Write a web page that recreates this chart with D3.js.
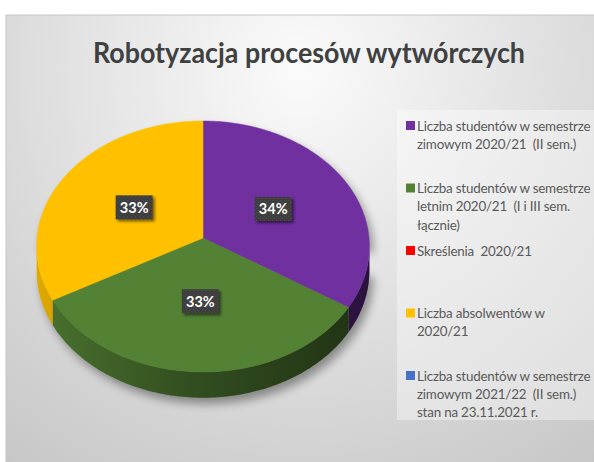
<!DOCTYPE html>
<html>
<head>
<meta charset="utf-8">
<script src="https://cdn.jsdelivr.net/npm/d3@7"></script>
<style>
  html, body { margin: 0; padding: 0; background: #ffffff; }
  svg { display: block; }
</style>
</head>
<body>
<svg id="chart" width="594" height="462"></svg>
<script>
// Series: share of each group (legend order)
const categories = [
  ["Liczba studentów w semestrze", "zimowym 2020/21  (II sem.)"],
  ["Liczba studentów w semestrze", "letnim 2020/21  (I i III sem.", "łącznie)"],
  ["Skreślenia  2020/21"],
  ["Liczba absolwentów w", "2020/21"],
  ["Liczba studentów w semestrze", "zimowym 2021/22  (II sem.)", "stan na 23.11.2021 r."]
];
const values = [34, 33, 0, 33, 0];
const colors = ["#7030A0", "#548235", "#FF0000", "#FFC000", "#4472C4"];
const title = "Robotyzacja procesów wytwórczych";

const W = 594, H = 462;
const svg = d3.select("#chart");
const defs = svg.append("defs");

// Chart area background: radial light-grey gradient
const bg = defs.append("radialGradient").attr("id", "bgGrad")
  .attr("gradientUnits", "userSpaceOnUse")
  .attr("cx", 300).attr("cy", 70).attr("r", 520);
bg.append("stop").attr("offset", 0).attr("stop-color", "#fbfbfb");
bg.append("stop").attr("offset", 0.55).attr("stop-color", "#dcdcdc");
bg.append("stop").attr("offset", 1).attr("stop-color", "#c4c4c4");

// Wall shading: darker toward the right
const wallShade = defs.append("linearGradient").attr("id", "wallShade")
  .attr("gradientUnits", "userSpaceOnUse")
  .attr("x1", 36).attr("y1", 0).attr("x2", 370).attr("y2", 0);
wallShade.append("stop").attr("offset", 0).attr("stop-color", "#000").attr("stop-opacity", 0.12);
wallShade.append("stop").attr("offset", 0.5).attr("stop-color", "#000").attr("stop-opacity", 0.42);
wallShade.append("stop").attr("offset", 1).attr("stop-color", "#000").attr("stop-opacity", 0.62);

// Soft shadow under the pie
const pieShadow = defs.append("filter").attr("id", "pieShadow")
  .attr("x", "-20%").attr("y", "-20%").attr("width", "140%").attr("height", "140%");
pieShadow.append("feGaussianBlur").attr("stdDeviation", 5);

// Label box shadow + dot texture
const lblShadow = defs.append("filter").attr("id", "lblShadow")
  .attr("x", "-30%").attr("y", "-30%").attr("width", "160%").attr("height", "160%");
lblShadow.append("feGaussianBlur").attr("in", "SourceAlpha").attr("stdDeviation", 1.6).attr("result", "b");
lblShadow.append("feOffset").attr("in", "b").attr("dx", 2).attr("dy", 2).attr("result", "o");
lblShadow.append("feComponentTransfer").attr("in", "o").attr("result", "s")
  .append("feFuncA").attr("type", "linear").attr("slope", 0.55);
const lm = lblShadow.append("feMerge");
lm.append("feMergeNode").attr("in", "s");
lm.append("feMergeNode").attr("in", "SourceGraphic");

const dots = defs.append("pattern").attr("id", "dots")
  .attr("patternUnits", "userSpaceOnUse").attr("width", 4).attr("height", 4);
dots.append("rect").attr("width", 4).attr("height", 4).attr("fill", "#3c3c3c");
dots.append("rect").attr("x", 1).attr("y", 1).attr("width", 1).attr("height", 1).attr("fill", "#5a5a5a");
dots.append("rect").attr("x", 3).attr("y", 3).attr("width", 1).attr("height", 1).attr("fill", "#525252");

// Chart area
svg.append("rect").attr("x", 6).attr("y", 15).attr("width", W).attr("height", H)
  .attr("fill", "url(#bgGrad)").attr("stroke", "#c6c6c6").attr("stroke-width", 1);

// Title
svg.append("text")
  .attr("x", 309).attr("y", 63)
  .attr("text-anchor", "middle")
  .attr("font-family", "Lato, 'Open Sans', sans-serif")
  .attr("font-weight", 700)
  .attr("font-size", 29)
  .attr("fill", "#404040")
  .attr("textLength", 432).attr("lengthAdjust", "spacingAndGlyphs")
  .text(title);

// 3D pie projection (tilted disc, mild perspective)
const cx = 203, cy = 238, A = 166, B = 124.9, k = 0.0677, depth = 24;
function proj(theta, f = 1, drop = 0) {
  const X = f * Math.sin(theta), Z = -f * Math.cos(theta);
  const w = 1 / (1 - k * Z);
  return [cx + A * X * w, cy + B * Z * w + drop * w];
}
function arcPoints(a0, a1, drop = 0) {
  const n = Math.max(2, Math.ceil((a1 - a0) / (Math.PI / 180)));
  return d3.range(n + 1).map(i => proj(a0 + (a1 - a0) * i / n, 1, drop));
}
const line = d3.line();

const pie = d3.pie().sort(null).value(d => d)(values);
const total = d3.sum(values);
const pct = d3.format(".0%");

// Visible front range of the side wall
const vis0 = Math.acos(-k), vis1 = 2 * Math.PI - Math.acos(-k);

// Shadow of the whole silhouette
const sil = arcPoints(vis1 - 2 * Math.PI, vis0).concat(arcPoints(vis0, vis1, depth).reverse());
svg.append("path")
  .attr("d", line(sil) + "Z")
  .attr("transform", "translate(4,6)")
  .attr("fill", "#000").attr("opacity", 0.38)
  .attr("filter", "url(#pieShadow)");

const pieG = svg.append("g");

// Side walls (front half only)
pie.filter(d => d.value > 0).forEach(d => {
  const a0 = Math.max(d.startAngle, vis0), a1 = Math.min(d.endAngle, vis1);
  if (a1 <= a0) return;
  const pts = arcPoints(a0, a1).concat(arcPoints(a0, a1, depth).reverse());
  pieG.append("path").attr("d", line(pts) + "Z").attr("fill", colors[d.index]);
  pieG.append("path").attr("d", line(pts) + "Z").attr("fill", "url(#wallShade)");
});

// Top faces
pie.filter(d => d.value > 0).forEach(d => {
  const pts = [[cx, cy]].concat(arcPoints(d.startAngle, d.endAngle));
  pieG.append("path").attr("d", line(pts) + "Z")
    .attr("fill", colors[d.index])
    .attr("stroke", colors[d.index]).attr("stroke-width", 0.5);
});

// Data labels
pie.filter(d => d.value > 0).forEach(d => {
  const mid = (d.startAngle + d.endAngle) / 2;
  const [lx, ly] = proj(mid, 0.49);
  const g = svg.append("g").attr("transform", `translate(${lx},${ly})`);
  g.append("rect").attr("x", -18.5).attr("y", -12).attr("width", 37).attr("height", 24)
    .attr("fill", "url(#dots)").attr("filter", "url(#lblShadow)");
  g.append("text").attr("text-anchor", "middle").attr("y", 5.5)
    .attr("font-family", "Lato, 'Open Sans', sans-serif")
    .attr("font-weight", 700).attr("font-size", 14.5)
    .attr("fill", "#ffffff")
    .text(pct(d.value / total));
});

// Legend
svg.append("rect").attr("x", 397).attr("y", 110).attr("width", 210).attr("height", 310)
  .attr("fill", "#ffffff").attr("opacity", 0.38);

const legendY = d3.scalePoint().domain(d3.range(categories.length)).range([121, 371]);
const lg = svg.append("g");
categories.forEach((lines, i) => {
  const y0 = legendY(i);
  lg.append("rect").attr("x", 406).attr("y", y0).attr("width", 9).attr("height", 9)
    .attr("fill", colors[i]);
  const t = lg.append("text")
    .attr("font-family", "Lato, 'Open Sans', sans-serif")
    .attr("font-size", 13.4).attr("fill", "#595959")
    .attr("letter-spacing", -0.2)
    .style("white-space", "pre");
  lines.forEach((s, j) => {
    t.append("tspan").attr("x", 417).attr("y", y0 + 9.5 + j * 18.3).text(s);
  });
});
</script>
</body>
</html>
